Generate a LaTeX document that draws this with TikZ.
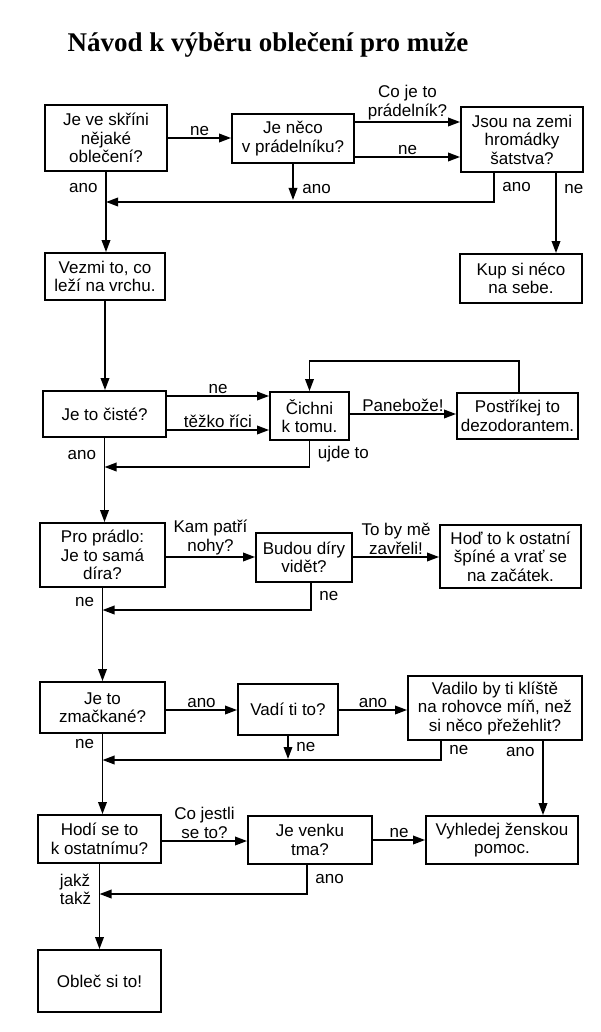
\documentclass[tikz,border=0pt]{standalone}
\usepackage{fontspec}
\setmainfont{Liberation Sans}
\newfontfamily\titlefont{Liberation Serif}
\usetikzlibrary{arrows.meta}

\newcommand{\flowfont}{\fontsize{17}{18.5}\selectfont}

\begin{document}
\begin{tikzpicture}[
  x=1pt, y=-1pt,
  block/.style={rectangle, draw, line width=1.8pt, inner sep=2pt, align=center, font=\flowfont},
  lbl/.style={inner sep=1.5pt, align=center, font=\flowfont},
  arr/.style={-{Triangle[length=12pt,width=8.5pt]}, line width=1.8pt},
  line width=1.8pt
]
\useasboundingbox (0,0) rectangle (600,1032);

% Title
\node[font=\titlefont\bfseries\fontsize{27}{30}\selectfont] (title) at (268,45) {Návod k výběru oblečení pro muže};

% Blocks
\node[block, minimum width=122pt, minimum height=66pt] (skrin) at (106,138) {Je ve skříni\\nějaké\\oblečení?};
\node[block, minimum width=122pt, minimum height=49pt] (pradelnik) at (293,138.5) {Je něco\\v prádelníku?};
\node[block, minimum width=122pt, minimum height=65pt] (hromadky) at (522,139.5) {Jsou na zemi\\hromádky\\šatstva?};
\node[block, minimum width=120pt, minimum height=47pt] (vezmi) at (105,276.5) {Vezmi to, co\\leží na vrchu.};
\node[block, minimum width=122pt, minimum height=49pt] (kup) at (521,278.5) {Kup si néco\\na sebe.};
\node[block, minimum width=123pt, minimum height=46pt] (ciste) at (104.5,414) {Je to čisté?};
\node[block, minimum width=79pt, minimum height=48pt] (cichni) at (309.5,416) {Čichni\\k tomu.};
\node[block, minimum width=121pt, minimum height=46pt] (postrikej) at (517.5,416) {Postříkej to\\dezodorantem.};
\node[block, minimum width=125pt, minimum height=64pt] (dira) at (102.5,555) {Pro prádlo:\\Je to samá\\díra?};
\node[block, minimum width=96pt, minimum height=49pt] (budou) at (304,557.5) {Budou díry\\vidět?};
\node[block, minimum width=141pt, minimum height=63pt] (hod) at (510.5,556.5) {Hoď to k ostatní\\špíné a vrať se\\na začátek.};
\node[block, minimum width=125pt, minimum height=51pt] (zmackane) at (102.5,707.5) {Je to\\zmačkané?};
\node[block, minimum width=100pt, minimum height=51pt] (vadi) at (288,709.5) {Vadí ti to?};
\node[block, minimum width=174pt, minimum height=64pt] (vadilo) at (495,708) {Vadilo by ti klíště\\na rohovce míň, než\\si něco přežehlit?};
\node[block, minimum width=123pt, minimum height=48pt] (hodise) at (99.5,839) {Hodí se to\\k ostatnímu?};
\node[block, minimum width=124pt, minimum height=48pt] (tma) at (310,840) {Je venku\\tma?};
\node[block, minimum width=152pt, minimum height=48pt] (vyhledej) at (502,840) {Vyhledej ženskou\\pomoc.};
\node[block, minimum width=123pt, minimum height=62pt] (oblec) at (99.5,981) {Obleč si to!};

% Arrows, first row
\draw[arr] (skrin.east |- 0,138) -- (pradelnik.west |- 0,138) node[lbl, midway, above] (l1) {ne};
\draw[arr] (pradelnik.east |- 0,122) -- (hromadky.west |- 0,122) node[lbl, midway, above] (l2) {Co je to\\prádelník?};
\draw[arr] (pradelnik.east |- 0,157) -- (hromadky.west |- 0,157) node[lbl, midway, above] (l3) {ne};
\draw[arr] (pradelnik.south) -- (pradelnik.south |- 0,200) node[lbl, pos=0.7, right=7pt] (l4) {ano};
\draw[arr] (hromadky.south -| 494,0) |- (skrin.south |- 0,202) node[lbl, pos=0.25, right=6pt] (l5) {ano};
\draw[arr] (hromadky.south -| 556,0) -- (kup.north -| 556,0) node[lbl, pos=0.2, right=6pt] (l6) {ne};
\draw[arr] (skrin.south) -- (skrin.south |- vezmi.north) node[lbl, pos=0.2, left=6pt] (l7) {ano};

% Arrows, second row
\draw[arr] (vezmi.south) -- (vezmi.south |- ciste.north);
\draw[arr] (ciste.east |- 0,396) -- (cichni.west |- 0,396) node[lbl, midway, above] (l8) {ne};
\draw[arr] (ciste.east |- 0,430) -- (cichni.west |- 0,430) node[lbl, midway, above] (l9) {těžko říci};
\draw[arr] (cichni.east |- 0,414) -- (postrikej.west |- 0,414) node[lbl, midway, above] (l10) {Panebože!};
\draw[arr] (postrikej.north -| 519,0) -- ++(0,-31) -| (cichni.north);
\draw[arr] (cichni.south) |- (ciste.south |- 0,467) node[lbl, pos=0.25, right=6pt] (l11) {ujde to};
\draw[arr] (ciste.south) -- (ciste.south |- dira.north) node[lbl, pos=0.2, left=6pt] (l12) {ano};

% Arrows, third row
\draw[arr] (dira.east |- 0,557) -- (budou.west |- 0,557) node[lbl, midway, above] (l13) {Kam patří\\nohy?};
\draw[arr] (budou.east |- 0,557) -- (hod.west |- 0,557) node[lbl, midway, above] (l14) {To by mě\\zavřeli!};
\draw[arr] (budou.south -| 311,0) |- (dira.south |- 0,610) node[lbl, pos=0.25, right=6pt] (l15) {ne};
\draw[arr] (dira.south) -- (dira.south |- zmackane.north) node[lbl, pos=0.15, left=6pt] (l16) {ne};

% Arrows, fourth row
\draw[arr] (zmackane.east |- 0,710) -- (vadi.west |- 0,710) node[lbl, midway, above] (l17) {ano};
\draw[arr] (vadi.east |- 0,710) -- (vadilo.west |- 0,710) node[lbl, midway, above] (l18) {ano};
\draw[arr] (vadi.south) -- (vadi.south |- 0,759) node[lbl, midway, right=6pt] (l19) {ne};
\draw[arr] (vadilo.south -| 441,0) |- (zmackane.south |- 0,760) node[lbl, pos=0.25, right=6pt] (l20) {ne};
\draw[arr] (vadilo.south -| 543,0) -- (vyhledej.north -| 543,0) node[lbl, pos=0.15, left=6pt] (l21) {ano};
\draw[arr] (zmackane.south) -- (zmackane.south |- hodise.north) node[lbl, pos=0.12, left=6pt] (l22) {ne};

% Arrows, fifth row
\draw[arr] (hodise.east |- 0,841) -- (tma.west |- 0,841) node[lbl, midway, above] (l23) {Co jestli\\se to?};
\draw[arr] (tma.east |- 0,840) -- (vyhledej.west |- 0,840) node[lbl, midway, above] (l24) {ne};
\draw[arr] (tma.south -| 307,0) |- (hodise.south |- 0,894) node[lbl, pos=0.25, right=6pt] (l25) {ano};
\draw[arr] (hodise.south) -- (hodise.south |- oblec.north) node[lbl, pos=0.3, left=6pt, align=left] (l26) {jakž\\takž};

\end{tikzpicture}
\end{document}
